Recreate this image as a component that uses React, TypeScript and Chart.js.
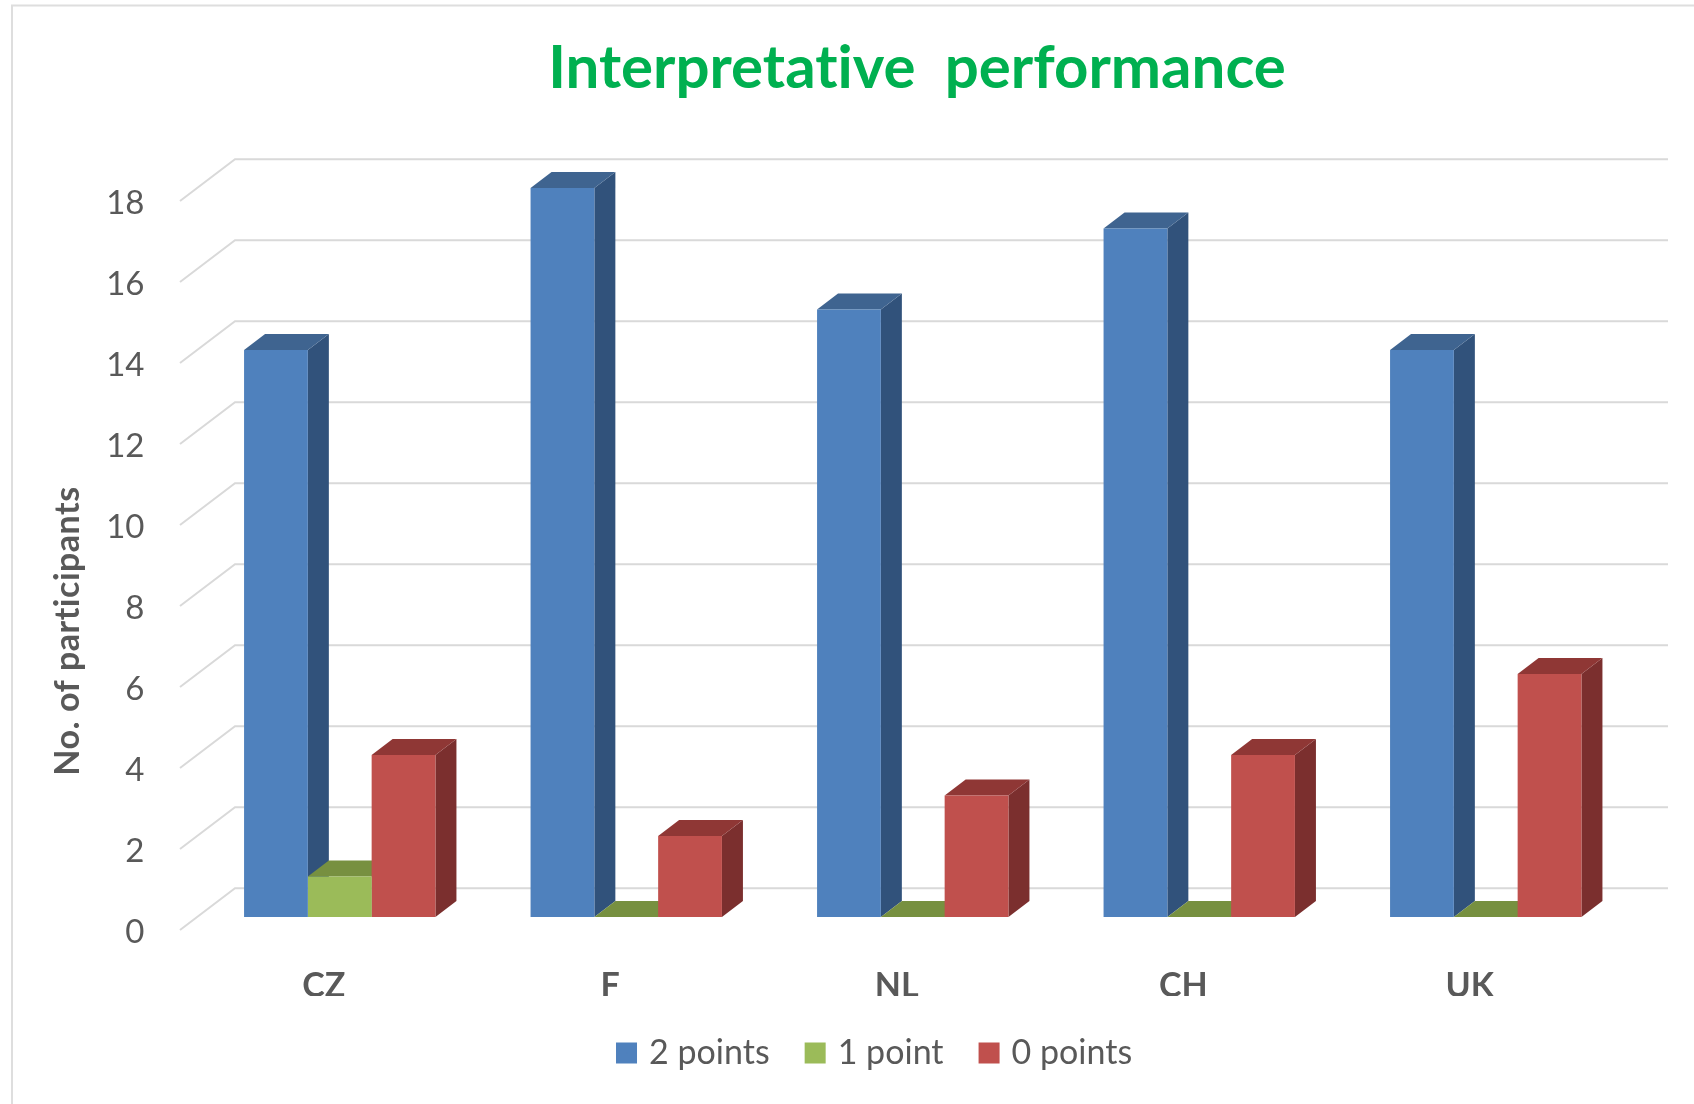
import React, { useEffect, useRef } from "react";
import { Chart, registerables } from "chart.js";

Chart.register(...registerables);

const categories = ["CZ", "F", "NL", "CH", "UK"];
const twoPoints = [14, 18, 15, 17, 14];
const onePoint = [1, 0, 0, 0, 0];
const zeroPoints = [4, 2, 3, 4, 6];
const seriesNames = ["2 points", "1 point", "0 points"];

const FONT = "Lato, 'Noto Sans', sans-serif";
const TEXT = "#595959";
const GRID = "#D9D9D9";

// Face shades for each series: front, top, side.
const faces = [
  { front: "#4F81BD", top: "#3F6490", side: "#31527B" },
  { front: "#9BBB59", top: "#779040", side: "#637833" },
  { front: "#C0504D", top: "#8F3735", side: "#7B2F2E" },
];

const BAR_DX = 21;
const BAR_DY = 16;

// Wall and floor grid: a slanted stub in front, then a line along the back wall.
const wallGrid = {
  id: "wallGrid",
  beforeDraw(chart: any) {
    const { ctx, scales, width } = chart;
    // A hair of tracking switches off Lato's "ti" ligature in all chart text.
    ctx.letterSpacing = "0.01px";
    ctx.save();
    ctx.strokeStyle = "#DEDEDE";
    ctx.lineWidth = 2;
    ctx.beginPath();
    ctx.moveTo(12, 1104);
    ctx.lineTo(12, 5.5);
    ctx.lineTo(width, 5.5);
    ctx.stroke();

    ctx.strokeStyle = GRID;
    ctx.lineWidth = 2;
    for (const tick of scales.y.ticks) {
      const y = scales.y.getPixelForValue(tick.value);
      ctx.beginPath();
      ctx.moveTo(180, y + 13);
      ctx.lineTo(235, y - 28.7);
      ctx.lineTo(1668, y - 28.7);
      ctx.stroke();
    }
    ctx.restore();
  },
};

// Extrudes every bar backwards: side and top faces go under the library's front faces.
const barDepth = {
  id: "barDepth",
  beforeDatasetsDraw(chart: any) {
    const { ctx } = chart;
    ctx.save();
    categories.forEach((_, index) => {
      faces.forEach((face, series) => {
        const bar = chart.getDatasetMeta(series).data[index];
        const { x, y, base, width } = bar.getProps(["x", "y", "base", "width"], true);
        const left = x - width / 2;
        const right = x + width / 2;
        ctx.fillStyle = face.side;
        ctx.beginPath();
        ctx.moveTo(right, y);
        ctx.lineTo(right + BAR_DX, y - BAR_DY);
        ctx.lineTo(right + BAR_DX, base - BAR_DY);
        ctx.lineTo(right, base);
        ctx.closePath();
        ctx.fill();
        ctx.fillStyle = face.top;
        ctx.beginPath();
        ctx.moveTo(left, y);
        ctx.lineTo(left + BAR_DX, y - BAR_DY);
        ctx.lineTo(right + BAR_DX, y - BAR_DY);
        ctx.lineTo(right, y);
        ctx.closePath();
        ctx.fill();
      });
    });
    ctx.restore();
  },
};

// Vertical axis caption, placed lower than the axis middle; title and legend nudged sideways.
const captions = {
  id: "captions",
  afterLayout(chart: any) {
    const shift = (box: any, dx: number) => {
      box.left += dx;
      box.right += dx;
    };
    if (chart.titleBlock) shift(chart.titleBlock, 102.5);
    if (chart.legend) shift(chart.legend, 62);
  },
  afterDraw(chart: any) {
    const { ctx } = chart;
    ctx.save();
    ctx.translate(68, 631);
    ctx.rotate(-Math.PI / 2);
    ctx.fillStyle = TEXT;
    ctx.font = `bold 34px ${FONT}`;
    ctx.letterSpacing = "0.5px";
    ctx.textAlign = "center";
    ctx.textBaseline = "middle";
    ctx.fillText("No. of participants", 0, 0);
    ctx.restore();
  },
};

export default function App() {
  const canvasRef = useRef<HTMLCanvasElement>(null);

  useEffect(() => {
    const chart = new Chart(canvasRef.current!, {
      type: "bar",
      data: {
        labels: categories,
        datasets: [twoPoints, onePoint, zeroPoints].map((values, i) => ({
          label: seriesNames[i],
          data: values,
          backgroundColor: faces[i].front,
          borderWidth: 0,
          categoryPercentage: 0.668,
          barPercentage: 1,
        })),
      },
      options: {
        animation: false,
        responsive: false,
        layout: { padding: { left: 0, right: 65, top: 0, bottom: 24 } },
        plugins: {
          title: {
            display: true,
            text: "Interpretative  performance",
            color: "#00B050",
            font: { family: FONT, size: 60, weight: "bold" },
            padding: { top: 33, bottom: 83 },
          },
          legend: {
            position: "bottom",
            labels: {
              // A small box with a thick outline of its own colour keeps the text close to the swatch.
              boxWidth: 11,
              boxHeight: 11,
              padding: 40,
              color: TEXT,
              font: { family: FONT, size: 34 },
              generateLabels: (c: any) =>
                c.data.datasets.map((d: any, i: number) => ({
                  text: d.label,
                  fillStyle: d.backgroundColor,
                  strokeStyle: d.backgroundColor,
                  lineWidth: 10,
                  fontColor: TEXT,
                  datasetIndex: i,
                })),
            },
          },
          tooltip: { enabled: false },
        },
        scales: {
          x: {
            grid: { display: false },
            border: { display: false },
            ticks: {
              color: TEXT,
              font: { family: FONT, size: 34, weight: "bold" },
              padding: 41,
              labelOffset: -16,
              maxRotation: 0,
              autoSkip: false,
            },
            afterFit: (scale: any) => {
              scale.height = 79;
            },
          },
          y: {
            min: 0,
            max: 18,
            grid: { display: false },
            border: { display: false },
            ticks: {
              stepSize: 2,
              color: TEXT,
              font: { family: FONT, size: 33 },
              padding: 44,
              labelOffset: 15,
            },
            afterFit: (scale: any) => {
              scale.width = 196.5;
            },
          },
        },
      },
      plugins: [wallGrid, barDepth, captions],
    } as any);
    return () => chart.destroy();
  }, []);

  return (
    <canvas
      ref={canvasRef}
      width={1694}
      height={1104}
      style={{ position: "absolute", left: 0, top: 0, width: 1694, height: 1104 }}
    />
  );
}
